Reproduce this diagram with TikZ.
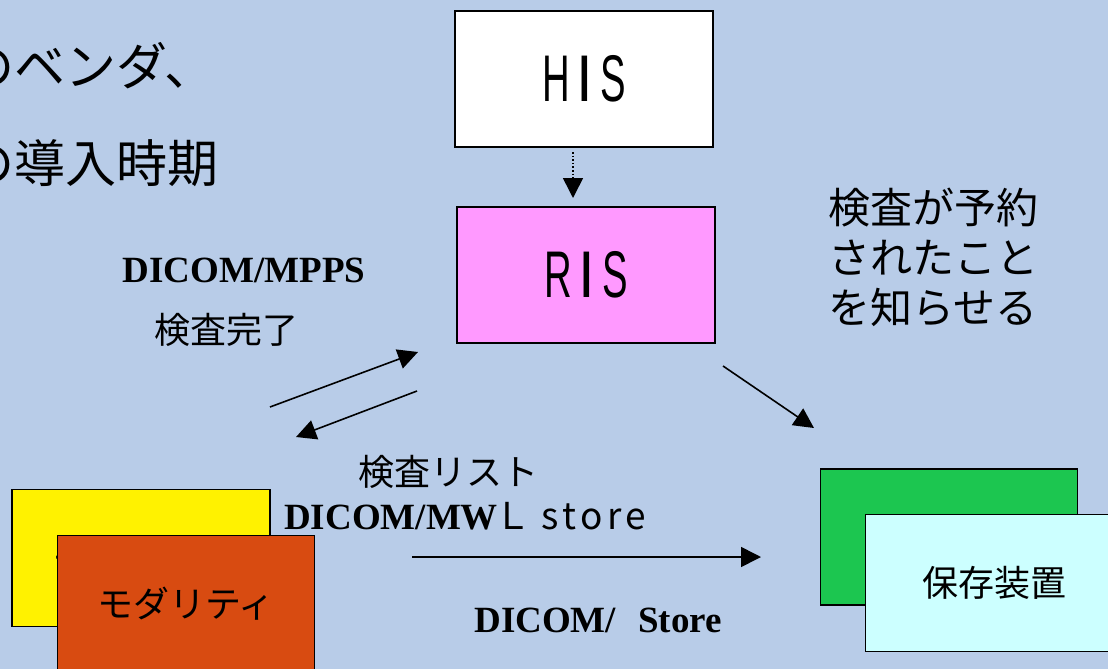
\documentclass[tikz,border=0pt]{standalone}
\usepackage{fontspec}
\usepackage{graphicx}
\setmainfont{Liberation Sans}
\newfontfamily\jpfont{Noto Sans CJK JP}
\newfontfamily\dcmfont{Liberation Serif}
\usetikzlibrary{arrows.meta}
\definecolor{bgblue}{RGB}{184,204,232}
\definecolor{rispink}{RGB}{255,153,255}
\definecolor{modorange}{RGB}{216,75,17}
\definecolor{stgreen}{RGB}{28,198,80}
\definecolor{stcyan}{RGB}{204,255,255}

\begin{document}
\begin{tikzpicture}[x=1pt, y=-1pt,
sysbox/.style={rectangle, draw=black, line width=1.4pt, minimum width=258pt, minimum height=136pt, inner sep=0pt},
sysname/.style={font=\fontsize{66}{72}\selectfont},
jptext/.style={font=\jpfont\fontsize{36}{44}\selectfont, inner sep=0pt},
dicom/.style={font=\dcmfont\bfseries\fontsize{37}{44}\selectfont, inner sep=0pt},
link/.style={line width=1.6pt, -{Triangle[length=20pt, width=20pt]}},
]
\useasboundingbox (0,0) rectangle (1108,669);
\clip (0,0) rectangle (1108,669);
\fill[bgblue] (0,0) rectangle (1108,669);

% slide text cut at the left edge
\node (vendor) [jptext, anchor=west, font=\jpfont\fontsize{51}{60}\selectfont] at (-37,66) {のベンダ、};
\node (period) [jptext, anchor=west, font=\jpfont\fontsize{51}{60}\selectfont] at (-37,163) {の導入時期};

% systems
\node (his) [sysbox, fill=white, sysname] at (584,79) {\scalebox{0.58}[1]{H\hspace{17pt}\textbf{I}\hspace{17pt}S}};
\node (ris) [sysbox, fill=rispink, sysname] at (586,275) {\scalebox{0.58}[1]{R\hspace{17pt}\textbf{I}\hspace{17pt}S}};
\node (mod1) [sysbox, fill=yellow, jptext, minimum width=258pt, minimum height=137pt] at (141,558) {モダリティ};
\node (mod2) [sysbox, fill=modorange, jptext, minimum width=257pt, minimum height=137pt] at (186,604) {モダリティ};
\node (store1) [sysbox, fill=stgreen, minimum width=257pt] at (949,537) {};
\node (store2) [sysbox, fill=stcyan, jptext, minimum width=257pt, minimum height=137pt] at (994,583) {保存装置};

% labels
\node (notice) [jptext, font=\jpfont\fontsize{42}{50}\selectfont, align=left] at (933,257) {検査が予約\\されたこと\\を知らせる};
\node (mpps) [dicom] at (244,270) {DICOM/MPPS};
\node (done) [jptext] at (226,330) {検査完了};
\node (list) [jptext] at (448,472) {検査リスト};
\node (mwl) [dicom, anchor=west] at (284,516) {DICOM/MW{\jpfont\mdseries\hspace{-3pt}Ｌ\hspace{10pt}\addfontfeatures{LetterSpace=12}store}};
\node (cstore) [dicom] at (598,620) {DICOM/\hspace{22pt}Store};

% connectors
\coordinate (hisout) at (573,152);
\coordinate (risin) at (573,198);
\coordinate (risout) at (723,366);
\coordinate (stin) at (814,428);
\coordinate (mppsa) at (270,407);
\coordinate (mppsb) at (418,352);
\coordinate (mwla) at (417,391);
\coordinate (mwlb) at (296,437);
\coordinate (imga) at (412,557);
\coordinate (imgb) at (761,557);

\draw[link, dotted] (hisout) -- (risin);
\draw[link] (risout) -- (stin);
\draw[link] (mppsa) -- (mppsb);
\draw[link] (mwla) -- (mwlb);
\draw[link] (imga) -- (imgb);
\end{tikzpicture}
\end{document}
